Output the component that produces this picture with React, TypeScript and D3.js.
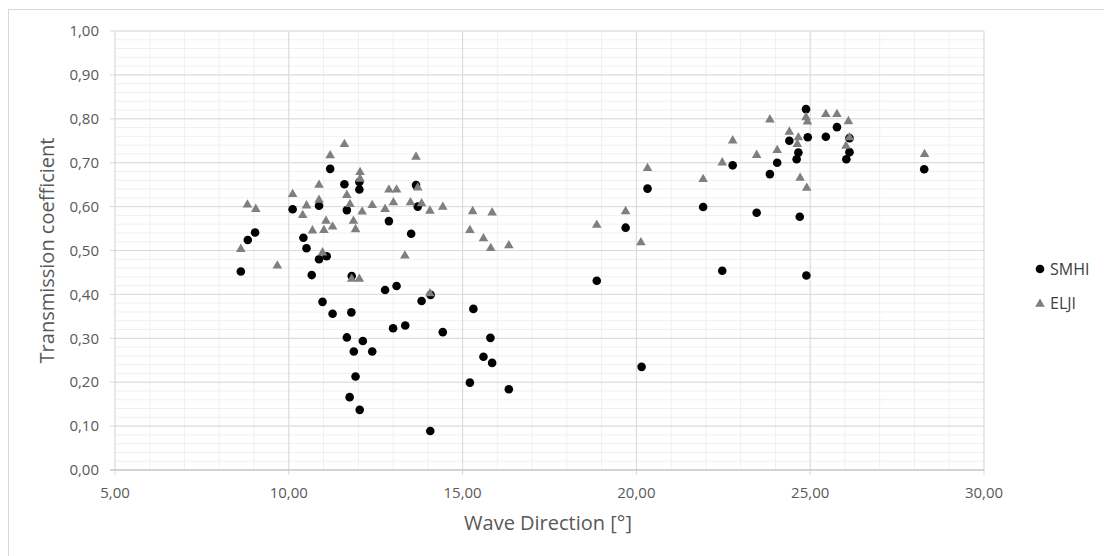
import React from "react";
import * as d3 from "d3";

// Wave direction [°] and transmission coefficient per measurement
const smhiDir = [
  8.62, 8.82, 9.03, 10.11, 10.42, 10.51, 10.66, 10.87, 10.87, 11.09, 10.97, 11.19,
  11.26, 11.6, 11.67, 11.67, 11.75, 11.8, 11.81, 11.87, 11.92, 12.03, 12.03, 12.04,
  12.13, 12.4, 12.77, 12.88, 13.0, 13.1, 13.35, 13.52, 13.66, 13.71, 13.82, 14.07,
  14.08, 14.43, 15.21, 15.31, 15.6, 15.8, 15.85, 16.33, 18.86, 19.69, 20.15, 20.32,
  21.92, 22.47, 22.77, 23.46, 23.84, 24.05, 24.4, 24.61, 24.66, 24.7, 24.88, 24.89,
  24.93, 25.45, 25.77, 26.04, 26.13, 26.13, 28.28,
];
const smhiCoef = [
  0.452, 0.524, 0.541, 0.594, 0.529, 0.505, 0.444, 0.602, 0.48, 0.487, 0.383, 0.686,
  0.356, 0.651, 0.592, 0.302, 0.166, 0.359, 0.442, 0.27, 0.213, 0.656, 0.639, 0.137,
  0.294, 0.27, 0.41, 0.567, 0.323, 0.419, 0.329, 0.538, 0.649, 0.6, 0.385, 0.089,
  0.399, 0.314, 0.199, 0.367, 0.258, 0.301, 0.244, 0.184, 0.431, 0.552, 0.235, 0.641,
  0.599, 0.454, 0.694, 0.586, 0.674, 0.7, 0.75, 0.708, 0.723, 0.577, 0.822, 0.443,
  0.758, 0.759, 0.781, 0.708, 0.724, 0.756, 0.685,
];

const eljiDir = [
  8.62, 8.81, 9.05, 9.67, 10.11, 10.4, 10.51, 10.68, 10.87, 10.87, 10.97, 11.01,
  11.07, 11.19, 11.26, 11.6, 11.67, 11.76, 11.81, 11.86, 11.92, 12.03, 12.05, 12.05,
  12.11, 12.4, 12.77, 12.88, 13.01, 13.1, 13.34, 13.5, 13.66, 13.71, 13.82, 14.06,
  14.06, 14.43, 15.21, 15.29, 15.6, 15.81, 15.85, 16.33, 18.86, 19.69, 20.13, 20.32,
  21.92, 22.47, 22.77, 23.46, 23.84, 24.05, 24.4, 24.63, 24.66, 24.71, 24.88, 24.92,
  24.9, 25.45, 25.77, 26.03, 26.1, 26.13, 28.29,
];
const eljiCoef = [
  0.505, 0.606, 0.596, 0.467, 0.63, 0.582, 0.604, 0.547, 0.651, 0.617, 0.497, 0.548,
  0.569, 0.718, 0.556, 0.744, 0.628, 0.607, 0.437, 0.569, 0.55, 0.437, 0.68, 0.665,
  0.59, 0.605, 0.596, 0.64, 0.611, 0.64, 0.49, 0.611, 0.715, 0.645, 0.609, 0.592,
  0.404, 0.601, 0.548, 0.591, 0.529, 0.507, 0.588, 0.513, 0.56, 0.591, 0.52, 0.689,
  0.664, 0.702, 0.752, 0.719, 0.8, 0.73, 0.772, 0.744, 0.759, 0.667, 0.805, 0.795,
  0.644, 0.812, 0.812, 0.74, 0.796, 0.759, 0.721,
];

const xMajorTicks = [5, 10, 15, 20, 25, 30];
const yMajorTicks = [0, 0.1, 0.2, 0.3, 0.4, 0.5, 0.6, 0.7, 0.8, 0.9, 1.0];
const seriesNames = ["SMHI", "ELJI"];

const W = 1104;
const H = 556;
const FONT = "'Open Sans', 'Liberation Sans', sans-serif";

const fmt = (v: number) => v.toFixed(2).replace(".", ",");

export default function App() {
  const x = d3.scaleLinear().domain([5, 30]).range([115, 984]);
  const y = d3.scaleLinear().domain([0, 1]).range([470, 31]);

  const xMinor = d3.range(5, 30.001, 1);
  const yMinor = d3.range(0, 1.0001, 0.02);

  const tri = d3.symbol().type(d3.symbolTriangle).size(40)();

  const smhi = smhiDir.map((d, i) => ({ d, c: smhiCoef[i] }));
  const elji = eljiDir.map((d, i) => ({ d, c: eljiCoef[i] }));

  return (
    <svg
      width={W}
      height={H}
      style={{ position: "absolute", left: 0, top: 0, background: "#fff" }}
      fontFamily={FONT}
    >
      <rect x={8.5} y={9.5} width={1110} height={560} fill="#fff" stroke="#d9d9d9" />

      {/* minor gridlines */}
      {xMinor.map((v) => (
        <line key={"xm" + v} x1={x(v)} x2={x(v)} y1={y(0)} y2={y(1)} stroke="#f0f0f0" />
      ))}
      {yMinor.map((v) => (
        <line key={"ym" + v} x1={x(5)} x2={x(30)} y1={y(v)} y2={y(v)} stroke="#f0f0f0" />
      ))}

      {/* major gridlines */}
      {xMajorTicks.map((v) => (
        <line key={"xM" + v} x1={x(v)} x2={x(v)} y1={y(0) + 5} y2={y(1)} stroke="#d9d9d9" />
      ))}
      {yMajorTicks.map((v) => (
        <line key={"yM" + v} x1={x(5) - 5} x2={x(30)} y1={y(v)} y2={y(v)} stroke="#d9d9d9" />
      ))}
      <line x1={x(5) - 5} x2={x(30)} y1={y(0)} y2={y(0)} stroke="#bfbfbf" />

      {/* tick labels */}
      {yMajorTicks.map((v) => (
        <text
          key={"yl" + v}
          x={99}
          y={y(v)}
          dy="0.35em"
          textAnchor="end"
          fontSize={15}
          fill="#595959"
        >
          {fmt(v)}
        </text>
      ))}
      {xMajorTicks.map((v) => (
        <text
          key={"xl" + v}
          x={x(v)}
          y={493}
          dy="0.35em"
          textAnchor="middle"
          fontSize={15}
          fill="#595959"
        >
          {fmt(v)}
        </text>
      ))}

      {/* axis titles */}
      <text
        transform={`translate(47,${(y(0) + y(1)) / 2}) rotate(-90)`}
        textAnchor="middle"
        dy="0.35em"
        fontSize={20}
        fill="#595959"
      >
        Transmission coefficient
      </text>
      <text x={548} y={523} dy="0.35em" textAnchor="middle" fontSize={20} fill="#595959">
        Wave Direction [°]
      </text>

      {/* series */}
      {smhi.map((p, i) => (
        <circle key={"s" + i} cx={x(p.d)} cy={y(p.c)} r={4.3} fill="#000" />
      ))}
      {elji.map((p, i) => (
        <path
          key={"e" + i}
          d={tri as string}
          transform={`translate(${x(p.d)},${y(p.c) + 0.8})`}
          fill="#7f7f7f"
        />
      ))}

      {/* legend */}
      <circle cx={1040} cy={269} r={4.3} fill="#000" />
      <text x={1050} y={269} dy="0.35em" fontSize={16} fill="#404040">
        {seriesNames[0]}
      </text>
      <path d={tri as string} transform={`translate(1040,${304})`} fill="#7f7f7f" />
      <text x={1050} y={303} dy="0.35em" fontSize={16} fill="#404040">
        {seriesNames[1]}
      </text>
    </svg>
  );
}
